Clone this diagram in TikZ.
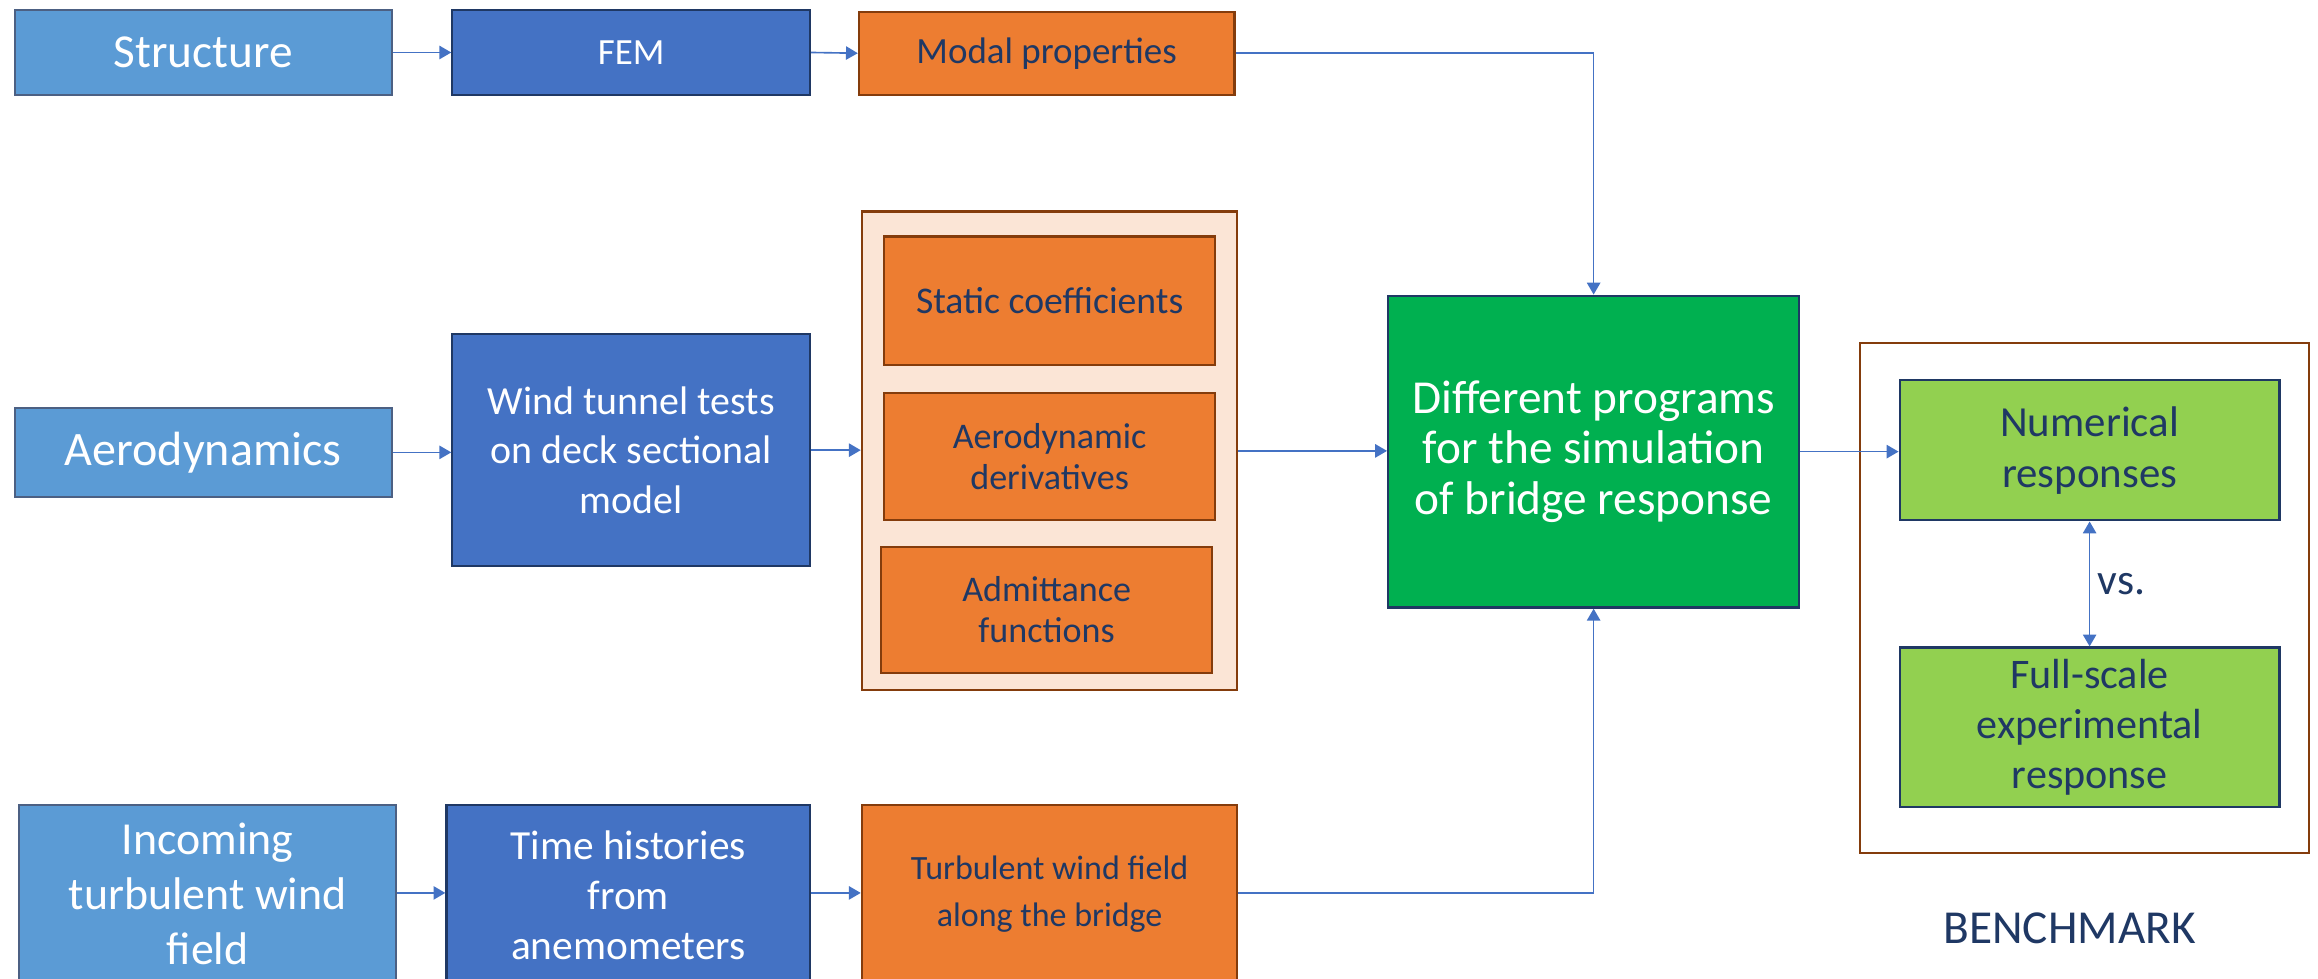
\documentclass[tikz,border=0pt]{standalone}
\usepackage{fontspec}
\setmainfont{Carlito}
\usetikzlibrary{arrows.meta}
\definecolor{lblue}{HTML}{5B9BD5}
\definecolor{dblue}{HTML}{4472C4}
\definecolor{orng}{HTML}{ED7D31}
\definecolor{grn}{HTML}{00B050}
\definecolor{lgrn}{HTML}{92D050}
\definecolor{peach}{HTML}{FBE5D6}
\definecolor{navy}{HTML}{1F3864}
\definecolor{brwn}{HTML}{843C0C}
\definecolor{arr}{HTML}{4472C4}
\tikzset{
  bx/.style={draw, line width=1.5pt, align=center, inner sep=2pt},
  bluebox/.style={bx, fill=lblue, draw=navy!80, text=white, font=\fontsize{32}{37}\selectfont},
  darkbox/.style={bx, fill=dblue, draw=navy, text=white, font=\fontsize{27}{33.5}\selectfont},
  orbox/.style={bx, fill=orng, draw=brwn, text=navy, font=\fontsize{24.4}{28}\selectfont},
  lgbox/.style={bx, fill=lgrn, draw=navy, text=navy, font=\fontsize{29}{34.5}\selectfont},
  conn/.style={draw=arr, line width=1.1pt, -{Triangle[width=9pt,length=8pt]}},
  conn2/.style={draw=arr, line width=1.1pt, {Triangle[width=9pt,length=8pt]}-{Triangle[width=9pt,length=8pt]}},
}
\begin{document}
\begin{tikzpicture}[x=1pt,y=1pt]
\clip (0,0) rectangle (1568,-662);
\fill[white] (0,0) rectangle (1568,-662);
% top row
\node[bluebox, minimum width=255pt, minimum height=57pt] (struct) at (137.5,-35.5) {Structure};
\node[darkbox, minimum width=242pt, minimum height=57pt, font=\fontsize{25}{30}\selectfont] (fem) at (427,-35.5) {FEM};
\node[orbox, minimum width=254pt, minimum height=56pt, font=\fontsize{25}{30}\selectfont] (modal) at (708,-36) {Modal properties};
% middle row
\node[bluebox, minimum width=255pt, minimum height=60pt, font=\fontsize{32.5}{37}\selectfont] (aero) at (137.5,-306) {Aerodynamics};
\node[darkbox, minimum width=242pt, minimum height=157pt] (wind) at (427,-304.5) {Wind tunnel tests\\on deck sectional\\model};
\node[bx, fill=peach, draw=brwn, minimum width=254pt, minimum height=324pt] (cont) at (710,-305) {};
\node[orbox, minimum width=224pt, minimum height=87pt, font=\fontsize{25.5}{30}\selectfont] (stat) at (710,-203.5) {Static coefficients};
\node[orbox, minimum width=224pt, minimum height=86pt] (deriv) at (710,-309) {Aerodynamic\\derivatives};
\node[orbox, minimum width=224pt, minimum height=85pt] (admit) at (708,-412.5) {Admittance\\functions};
\node[bx, fill=grn, draw=navy, text=white, minimum width=278pt, minimum height=211pt, font=\fontsize{32}{34}\selectfont] (prog) at (1078,-305.5) {Different programs\\for the simulation\\of bridge response};
% benchmark
\node[draw=brwn, line width=1.5pt, fill=white, minimum width=304pt, minimum height=345pt] (bench) at (1410,-404.5) {};
\node[lgbox, minimum width=257pt, minimum height=95pt] (num) at (1413.5,-304.5) {Numerical\\responses};
\node[lgbox, minimum width=257pt, minimum height=108pt, font=\fontsize{28.5}{34}\selectfont] (full) at (1413.5,-492) {Full-scale\\experimental\\response};
\node[text=navy, font=\fontsize{29.5}{32}\selectfont] (vs) at (1435,-395) {vs.};
\node[text=navy, font=\fontsize{32}{36}\selectfont] (bmk) at (1400,-628) {BENCHMARK};
% bottom row
\node[bluebox, minimum width=255pt, minimum height=120pt, font=\fontsize{31}{37}\selectfont, anchor=north] (inc) at (140.5,-544) {Incoming\\turbulent wind\\field};
\node[darkbox, minimum width=246pt, minimum height=122pt, font=\fontsize{28}{34}\selectfont, anchor=north] (time) at (425,-544) {Time histories\\from\\anemometers};
\node[orbox, minimum width=254pt, minimum height=120pt, font=\fontsize{23}{32}\selectfont, anchor=north] (turb) at (710,-544) {Turbulent wind field\\along the bridge};
% connectors
\draw[conn] (struct.east) -- (fem.west);
\draw[conn] (fem.east) -- (modal.west);
\draw[conn] (modal.east) -| (prog.north);
\draw[conn] (aero.east) -- (aero.east -| wind.west);
\draw[conn] (wind.east) -- (wind.east -| cont.west);
\draw[conn] (cont.east) -- (cont.east -| prog.west);
\draw[conn] (prog.east) -- (prog.east -| num.west);
\draw[conn2] (num.south) -- (full.north);
\coordinate (bl) at (turb.east |- 0,-604);
\draw[conn] (inc.east |- bl) -- (time.west |- bl);
\draw[conn] (time.east |- bl) -- (turb.west |- bl);
\draw[conn] (bl) -| (prog.south);
\end{tikzpicture}
\end{document}
